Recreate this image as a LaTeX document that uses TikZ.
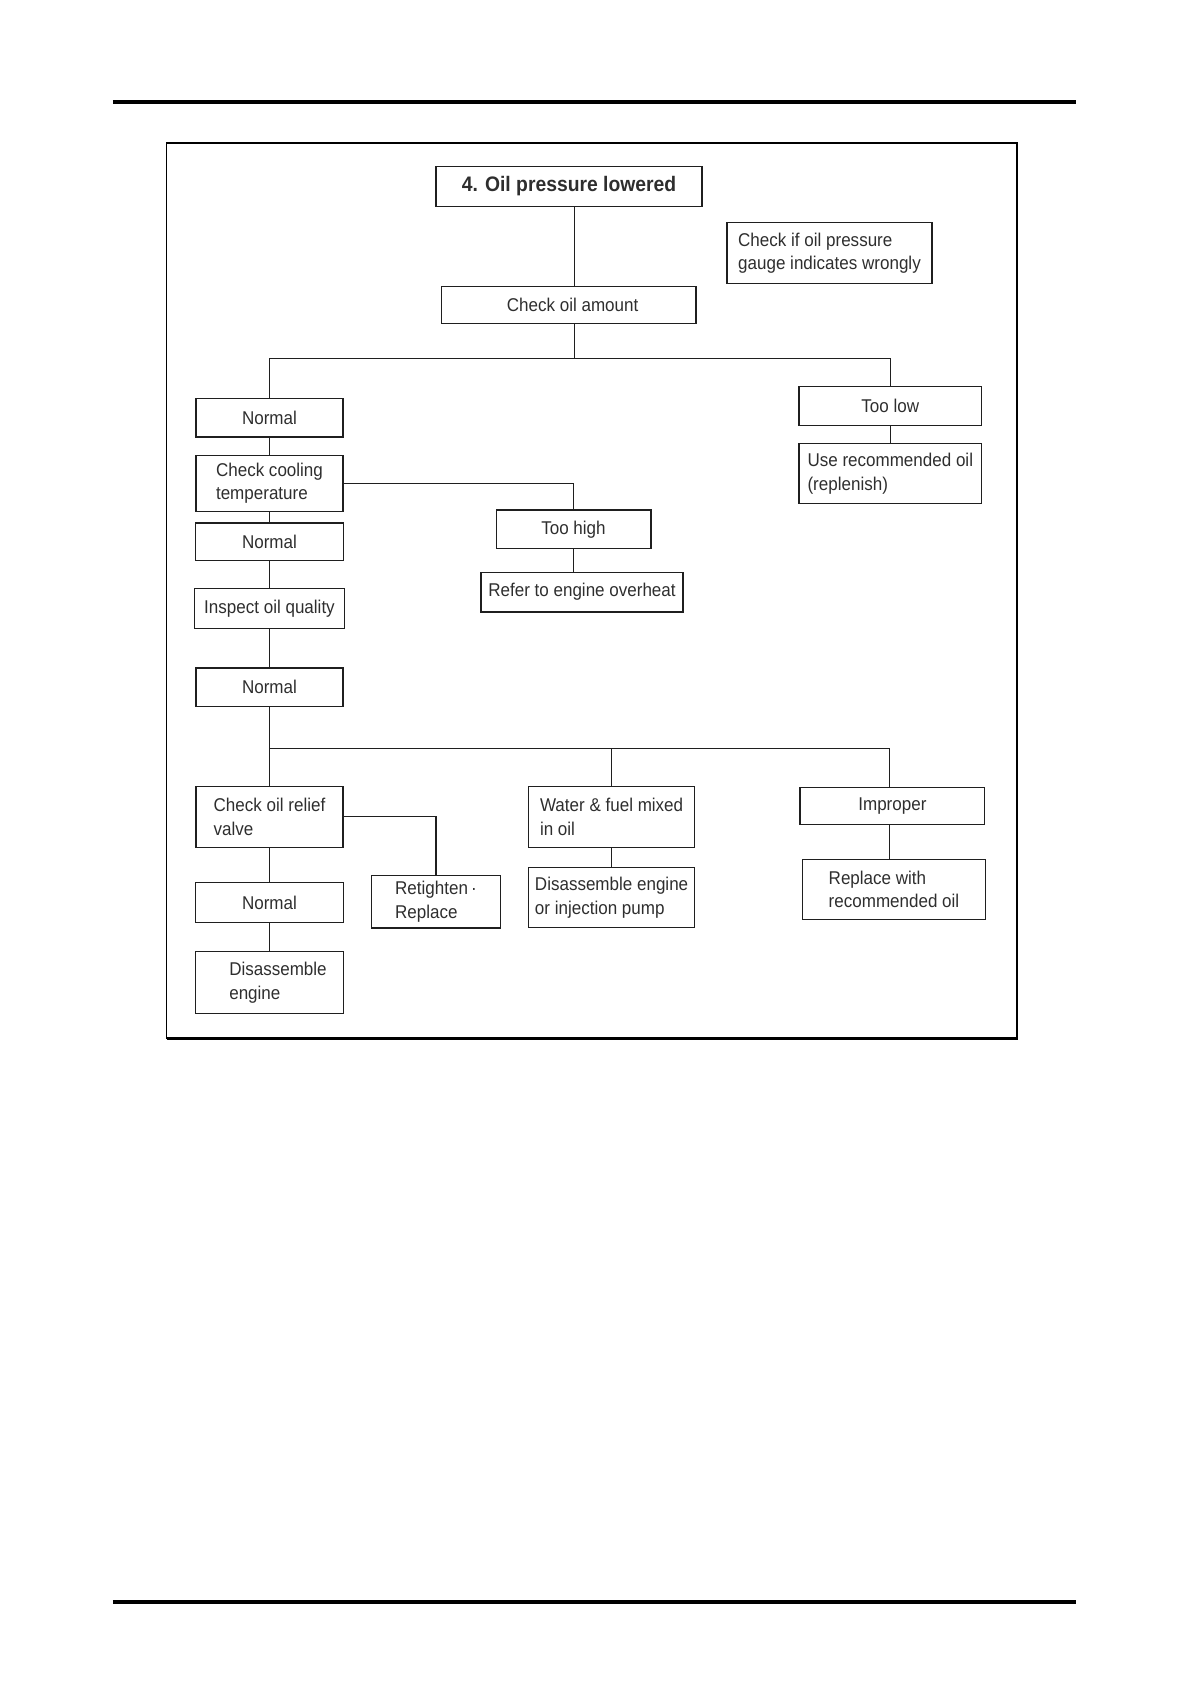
\documentclass[tikz,border=0pt]{standalone}
\usepackage{fontspec}
\setmainfont{Liberation Sans}[FakeStretch=0.92]
\definecolor{ink}{rgb}{0.18,0.18,0.18}
\definecolor{edge}{rgb}{0.12,0.12,0.12}
\begin{document}
\begin{tikzpicture}[x=1pt,y=-1pt,
  box/.style={draw=edge, line width=1.3pt, inner sep=0pt, align=left, text=ink,
    font=\fontsize{18.5}{23.5}\selectfont},
  link/.style={draw=edge, line width=1.2pt},
  rule/.style={draw=black, line width=4.5pt},
  frame/.style={draw=black, line width=1.6pt}]
\useasboundingbox (0,0) rectangle (1191,1684);
% page rules and frame
\draw[rule] (112.8,102) -- (1076,102);
\draw[rule] (112.8,1602) -- (1076,1602);
\draw[frame] (166.5,142.8) rectangle (1017,1038.5);
\draw[black, line width=2.4pt] (1017,142.8) -- (1017,1038.5) -- (166.5,1038.5);
% boxes
\node[box, minimum width=266, minimum height=40, font=\fontsize{21}{25}\selectfont\bfseries] (title) at (569,186.3) {4. Oil pressure lowered};
\node[box, minimum width=205, minimum height=61] (gauge) at (829.5,253) {Check if oil pressure\\gauge indicates wrongly};
\node[box, minimum width=254.5, minimum height=36.5] (amount) at (568.6,305) {\hspace*{8pt}Check oil amount};
\node[box, minimum width=147, minimum height=38.6] (n1) at (269.5,417.7) {Normal};
\node[box, minimum width=182.5, minimum height=38.7] (toolow) at (890.3,406) {Too low};
\node[box, minimum width=182.5, minimum height=60] (userec) at (890.3,473.6) {Use recommended oil\\(replenish)};
\node[box, minimum width=147, minimum height=56] (cool) at (269.5,483.3) {Check cooling\\temperature};
\node[box, minimum width=154.7, minimum height=38.7] (toohigh) at (573.5,529.4) {Too high};
\node[box, minimum width=202, minimum height=39.7] (refer) at (582,592.2) {Refer to engine overheat};
\node[box, minimum width=148, minimum height=37.6] (n2) at (269.5,541.8) {Normal};
\node[box, minimum width=150, minimum height=39.7] (inspect) at (269.5,608.4) {Inspect oil quality};
\node[box, minimum width=147, minimum height=38.6] (n3) at (269.5,687.3) {Normal};
\node[box, minimum width=147, minimum height=61] (relief) at (269.5,816.7) {Check oil relief\\valve};
\node[box, minimum width=166.4, minimum height=61] (water) at (611.6,816.7) {Water \& fuel mixed\\in oil};
\node[box, minimum width=184.7, minimum height=37.6] (improper) at (892.4,806) {Improper};
\node[box, minimum width=128.9, minimum height=52.7] (retighten) at (436,901.5) {Retighten\,·\\Replace};
\node[box, minimum width=148, minimum height=39.8] (n4) at (269.5,902.6) {Normal};
\node[box, minimum width=166.4, minimum height=60] (disinj) at (611.6,897.8) {Disassemble engine\\or injection pump};
\node[box, minimum width=183.6, minimum height=60] (replace) at (894,889.2) {Replace with\\recommended oil};
\node[box, minimum width=148, minimum height=62] (diseng) at (269.5,982.6) {\hspace*{17pt}Disassemble\\\hspace*{17pt}engine};
% junctions
\coordinate (j1) at (574.5,358.7);
\coordinate (j2l) at (269.5,748.5);
\coordinate (j2m) at (611.6,748.5);
\coordinate (j2r) at (889.5,748.5);
% connectors
\draw[link] (title.south -| j1) -- (amount.north -| j1);
\draw[link] (amount.south -| j1) -- (j1);
\draw[link] (n1.north) |- (j1) -| (toolow.north);
\draw[link] (toolow) -- (userec);
\draw[link] (n1) -- (cool);
\draw[link] (cool.east) -| (toohigh.north);
\draw[link] (toohigh.south) -- (toohigh.south |- refer.north);
\draw[link] (cool) -- (n2);
\draw[link] (n2) -- (inspect);
\draw[link] (inspect) -- (n3);
\draw[link] (n3) -- (relief);
\draw[link] (j2l) -- (j2r) -- (improper.north -| j2r);
\draw[link] (j2m) -- (water.north);
\draw[link] (relief.east) -| (retighten.north);
\draw[link] (relief) -- (n4);
\draw[link] (n4) -- (diseng);
\draw[link] (water) -- (disinj);
\draw[link] (improper.south -| j2r) -- (replace.north -| j2r);
\end{tikzpicture}
\end{document}
